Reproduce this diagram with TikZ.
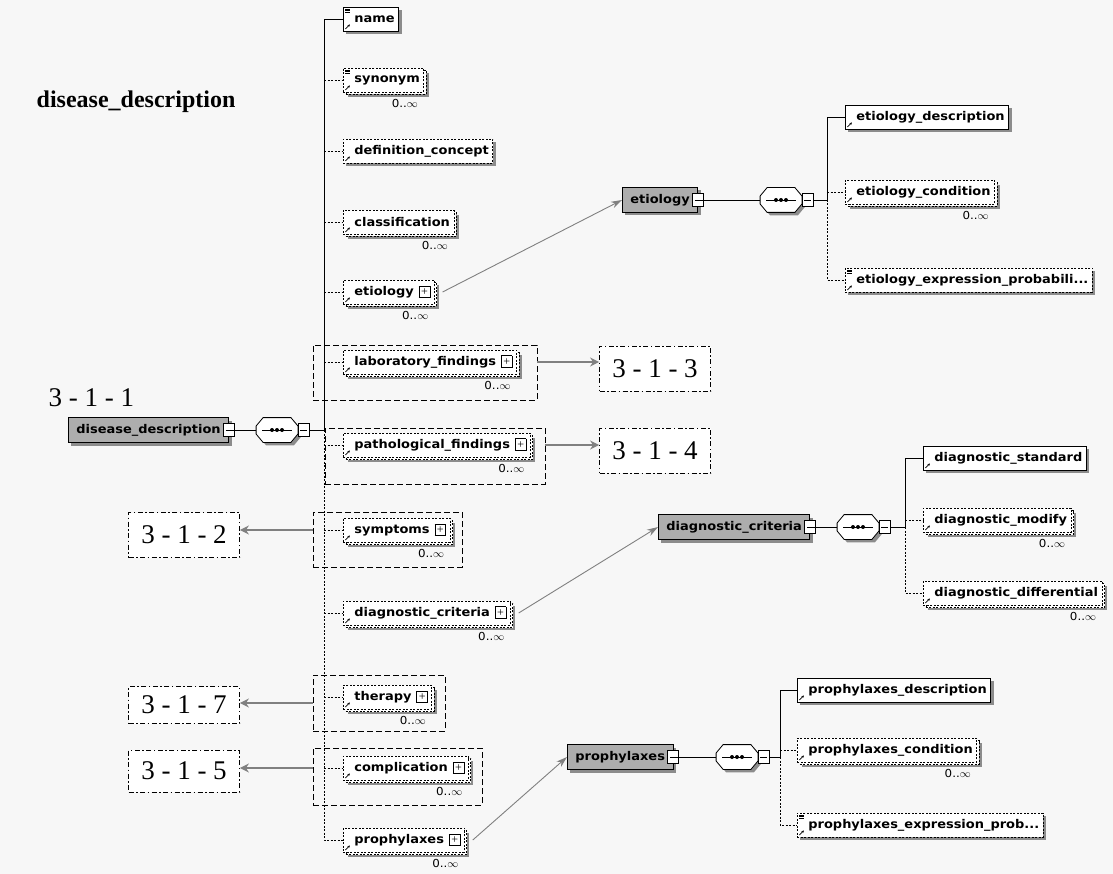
\documentclass[tikz,border=0pt]{standalone}
\usepackage{fontspec}
\setmainfont{Liberation Serif}
\newfontfamily\boxfont{DejaVu Sans}[FakeStretch=1.08]
\usetikzlibrary{positioning, shadows, arrows.meta}

\newcommand{\expd}{\hspace{5pt}{\setlength{\fboxsep}{0pt}\setlength{\fboxrule}{0.7pt}\fbox{\makebox[10pt]{\rule[-1.5pt]{0pt}{11pt}\raisebox{0.5pt}{\normalfont\fontsize{12}{12}\selectfont +}}}}}
\newcommand{\refarrow}{\draw[solid, line width=0.7pt, -{Stealth[length=2.5pt,width=2.5pt]}] ([shift={(2pt,2pt)}]path picture bounding box.south west) -- ([shift={(6.5pt,6.5pt)}]path picture bounding box.south west);}
\newcommand{\simpbars}{\foreach \k in {2,3.5,5}{\draw[solid, line width=0.4pt] ([shift={(2pt,-\k pt)}]path picture bounding box.north west) -- ++(4.5pt,0pt);}}

\begin{document}
\begin{tikzpicture}[x=1pt,y=-1pt,line width=0.8pt]
\tikzstyle{elem}=[draw, fill=white, anchor=west, font=\boxfont\bfseries\fontsize{12}{14}\selectfont, minimum height=24pt, inner xsep=4pt, execute at begin node={\hspace{7pt}}, path picture={\refarrow}, drop shadow={shadow xshift=3pt, shadow yshift=-3pt, fill=black!45, opacity=1}]
\tikzstyle{simp}=[path picture={\refarrow\simpbars}]
\tikzstyle{opt}=[elem, dash pattern=on 2pt off 1.5pt]
\tikzstyle{multi}=[opt, drop shadow={shadow xshift=5pt, shadow yshift=-5pt, fill=black!45, opacity=1}, copy shadow={shadow xshift=2.5pt, shadow yshift=-2.5pt, dash pattern=on 2pt off 1.5pt}]
\tikzstyle{cplx}=[draw, fill=black!32, anchor=west, font=\boxfont\bfseries\fontsize{12}{14}\selectfont, minimum height=25pt, inner xsep=8pt, drop shadow={shadow xshift=3pt, shadow yshift=-3pt, fill=black!45, opacity=1}]
\tikzstyle{minbox}=[draw, fill=white, minimum width=11pt, minimum height=13pt, inner sep=0pt, path picture={\draw ([xshift=2pt]path picture bounding box.west) -- ([xshift=-2pt]path picture bounding box.east);}]
\tikzstyle{seqc}=[minimum width=41pt, minimum height=24pt, inner sep=0pt]
\tikzstyle{octa}=[draw, fill=white, drop shadow={shadow xshift=3pt, shadow yshift=-3pt, fill=black!45, opacity=1}]
\tikzstyle{grp}=[draw, dash pattern=on 6pt off 3pt, inner sep=0pt]
\tikzstyle{refbox}=[draw, fill=white, dash pattern=on 5pt off 2.5pt on 1.5pt off 2.5pt, font=\fontsize{27}{30}\selectfont, minimum width=111pt, minimum height=45pt, inner sep=0pt]
\tikzstyle{mult}=[font=\boxfont\fontsize{11}{12}\selectfont, inner sep=0pt]
\tikzstyle{optl}=[dash pattern=on 2pt off 1.5pt]
\tikzstyle{refarr}=[line width=2.8pt, draw=black!50, -{Stealth[length=9pt, width=9pt]}]
\tikzstyle{lnkarr}=[line width=0.9pt, draw=black!50, -{Stealth[length=11pt, width=7pt]}]

\fill[black!3] (0,0) rectangle (1113,874);
\useasboundingbox (0,0) rectangle (1113,874);

% headings
\node[anchor=west, font=\bfseries\fontsize{24}{27}\selectfont] (title) at (33,102) {disease\_description};
\node[anchor=west, font=\fontsize{27}{30}\selectfont] (lvl) at (45,398) {3 - 1 - 1};

% groups with references to other sheets
\node[grp, minimum width=224pt, minimum height=55pt] (labG) at (425,372.5) {};
\node[grp, minimum width=220pt, minimum height=56pt] (patG) at (435,456) {};
\node[grp, minimum width=149pt, minimum height=55pt] (sympG) at (387.5,539.5) {};
\node[grp, minimum width=132pt, minimum height=56pt] (therG) at (379,703) {};
\node[grp, minimum width=169pt, minimum height=57pt] (compG) at (397.5,776.5) {};

\node[refbox] (r313) at (655,368.5) {3 - 1 - 3};
\node[refbox] (r314) at (655,450.5) {3 - 1 - 4};
\node[refbox] (r312) at (184,535) {3 - 1 - 2};
\node[refbox, minimum height=37pt] (r317) at (184,705) {3 - 1 - 7};
\node[refbox, minimum height=42pt] (r315) at (184,771) {3 - 1 - 5};

% root element
\node[cplx] (root) at (68,430) {disease\_description\hspace{6pt}};
\node[minbox] (rootS) at (root.east) {};
\node[seqc] (rootQ) at (277,430) {};
\node[minbox, right=0pt of rootQ] (rootQS) {};
\coordinate (rT) at (324,430);

\node[elem, simp] (name) at (343,19) {name};
\node[multi, simp] (syn) at (343,80) {synonym};
\node[opt] (defc) at (343,151) {definition\_concept};
\node[multi] (clas) at (343,222) {classification};
\node[multi] (etio) at (343,292) {etiology\expd};
\node[multi] (labf) at (343,362) {laboratory\_findings\expd};
\node[multi] (patf) at (343,445) {pathological\_findings\expd};
\node[multi] (symp) at (343,530) {symptoms\expd};
\node[multi] (diag) at (343,613) {diagnostic\_criteria\expd};
\node[multi] (ther) at (343,697) {therapy\expd};
\node[multi] (comp) at (343,768) {complication\expd};
\node[multi] (prop) at (343,840) {prophylaxes\expd};

\foreach \n in {syn,clas,etio,labf,patf,symp,diag,ther,comp,prop}
  \node[mult, below left=7pt and 6pt of \n.south east] (\n M) {0..$\infty$};

\draw (root.east) -- (rootQ.west);
\draw (rootQS.east) -- (rT) |- (name.west);
\draw[optl] (rT) |- (prop.west);
\foreach \n in {syn,defc,clas,etio,labf,patf,symp,diag,ther,comp}
  \draw[optl] (\n.west -| rT) -- (\n.west);

% etiology
\node[cplx] (etC) at (622,200) {etiology\hspace{6pt}};
\node[minbox] (etS) at (etC.east) {};
\node[seqc] (etQ) at (781,200) {};
\node[minbox, right=0pt of etQ] (etQS) {};
\coordinate (eT) at (827,200);
\node[elem] (etd) at (845,117) {etiology\_description};
\node[multi] (etcn) at (845,192) {etiology\_condition};
\node[mult, below left=7pt and 6pt of etcn.south east] (etcnM) {0..$\infty$};
\node[opt, simp] (etx) at (845,280) {etiology\_expression\_probabili...};
\draw (etC.east) -- (etQ.west);
\draw (etQS.east) -- (eT) |- (etd.west);
\draw[optl] (eT) |- (etx.west);
\draw[optl] (etcn.west -| eT) -- (etcn.west);

% diagnostic criteria
\node[cplx] (dgC) at (658,527) {diagnostic\_criteria\hspace{6pt}};
\node[minbox] (dgS) at (dgC.east) {};
\node[seqc] (dgQ) at (858,527) {};
\node[minbox, right=0pt of dgQ] (dgQS) {};
\coordinate (dT) at (905,527);
\node[elem] (dgd) at (923,458) {diagnostic\_standard};
\node[multi] (dgm) at (923,520) {diagnostic\_modify};
\node[multi] (dgf) at (923,593) {diagnostic\_differential};
\node[mult, below left=7pt and 6pt of dgm.south east] (dgmM) {0..$\infty$};
\node[mult, below left=7pt and 6pt of dgf.south east] (dgfM) {0..$\infty$};
\draw (dgC.east) -- (dgQ.west);
\draw (dgQS.east) -- (dT) |- (dgd.west);
\draw[optl] (dT) |- (dgf.west);
\draw[optl] (dgm.west -| dT) -- (dgm.west);

% prophylaxes
\node[cplx] (prC) at (567,757) {prophylaxes\hspace{6pt}};
\node[minbox] (prS) at (prC.east) {};
\node[seqc] (prQ) at (737,757) {};
\node[minbox, right=0pt of prQ] (prQS) {};
\coordinate (pT) at (780,757);
\node[elem] (prd) at (797,690) {prophylaxes\_description};
\node[multi] (prcn) at (797,750) {prophylaxes\_condition};
\node[mult, below left=7pt and 6pt of prcn.south east] (prcnM) {0..$\infty$};
\node[opt, simp] (prx) at (797,825) {prophylaxes\_expression\_prob...};
\draw (prC.east) -- (prQ.west);
\draw (prQS.east) -- (pT) |- (prd.west);
\draw[optl] (pT) |- (prx.west);
\draw[optl] (prcn.west -| pT) -- (prcn.west);

% sequence compositors
\foreach \q in {rootQ,etQ,dgQ,prQ}{
  \draw[octa] ([yshift=4pt]\q.west) -- ([xshift=7pt]\q.north west) -- ([xshift=-7pt]\q.north east)
    -- ([yshift=4pt]\q.east) -- ([yshift=-4pt]\q.east) -- ([xshift=-7pt]\q.south east)
    -- ([xshift=7pt]\q.south west) -- ([yshift=-4pt]\q.west) -- cycle;
  \draw ([xshift=6pt]\q.west) -- ([xshift=-6pt]\q.east);
  \foreach \d in {-5,0,5}
    \fill ([xshift=\d pt]\q.center) circle (2pt);
}
\foreach \q in {rootQS,etQS,dgQS,prQS}
  \node[minbox] at (\q) {};

% links
\draw[lnkarr] ([xshift=8pt]etio.east) -- (etC.west);
\draw[lnkarr] ([xshift=8pt]diag.east) -- (dgC.west);
\draw[lnkarr] ([xshift=8pt]prop.east) -- (prC.west);

\draw[refarr] (labG.east |- labf) -- (labf -| r313.west);
\draw[refarr] (patG.east |- patf) -- (patf -| r314.west);
\draw[refarr] (sympG.west |- symp) -- (symp -| r312.east);
\draw[refarr] (therG.west) -- (therG.west -| r317.east);
\draw[refarr] (compG.west |- comp) -- (comp -| r315.east);
\end{tikzpicture}
\end{document}
